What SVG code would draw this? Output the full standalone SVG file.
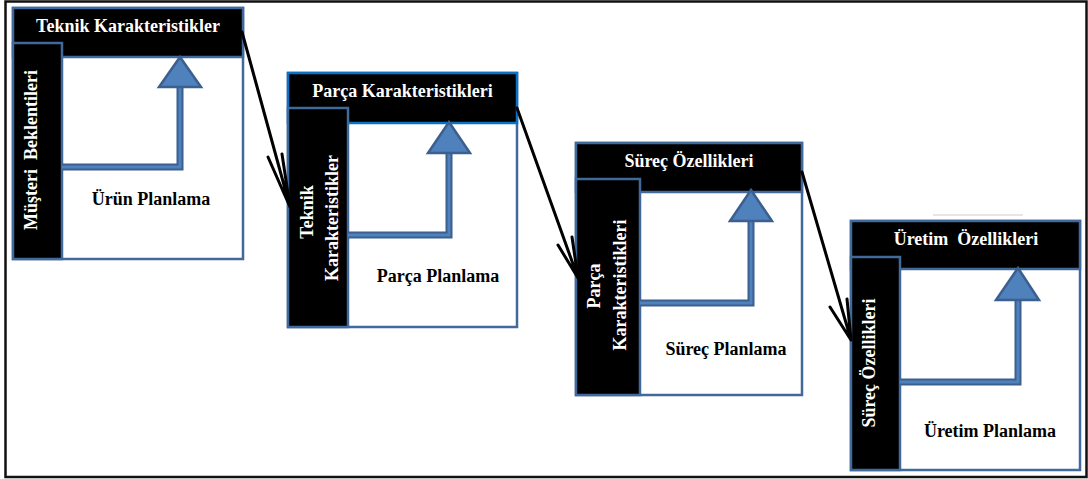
<svg xmlns="http://www.w3.org/2000/svg" width="1088" height="479" viewBox="0 0 1088 479">
<defs>
<style>
.frame{fill:#fff;stroke:#111;stroke-width:2.5}
.box{fill:#fff;stroke:#41699c;stroke-width:2.5}
.hdr{fill:#000;stroke:#41699c;stroke-width:2.5}
.hdr2{fill:#000;stroke:#0a72c4;stroke-width:2.5}
.bar{fill:#000;stroke:#41699c;stroke-width:2.5}
.flowO{fill:none;stroke:#3b5f8e;stroke-width:7;stroke-linejoin:miter}
.flowI{fill:none;stroke:#4f81bd;stroke-width:3;stroke-linejoin:miter}
.head{fill:#4f81bd;stroke:#3b5f8e;stroke-width:2.5;stroke-linejoin:miter}
.wt{font-family:"Liberation Serif","Times New Roman",serif;font-weight:bold;font-size:18px;fill:#fff;text-anchor:middle}
.bt{font-family:"Liberation Serif","Times New Roman",serif;font-weight:bold;font-size:18px;fill:#000;text-anchor:middle}
.conn{fill:none;stroke:#000;stroke-width:3;stroke-linecap:round}
</style>
</defs>
<rect class="frame" x="5.5" y="1.5" width="1081" height="475.5"/>
<line x1="933" y1="215" x2="1023" y2="215" stroke="#e6e6e6" stroke-width="2"/>

<g id="urun-planlama">
<rect class="box" x="13" y="8" width="230" height="251"/>
<rect class="hdr" x="13" y="8" width="230" height="49"/>
<rect class="bar" x="13" y="43" width="49" height="216"/>
<text class="wt" x="128" y="32">Teknik Karakteristikler</text>
<text class="wt" transform="translate(37,150) rotate(-90)" xml:space="preserve">Müşteri  Beklentileri</text>
<path class="flowO" d="M62 167H180V86"/>
<path class="flowI" d="M62 167H180V86"/>
<polygon class="head" points="180,57 201,87 159,87"/>
<text class="bt" x="151" y="205">Ürün Planlama</text>
</g>

<g id="parca-planlama">
<rect class="box" x="288" y="73" width="229" height="254"/>
<rect class="hdr2" x="288" y="73" width="229" height="50"/>
<rect class="bar" x="288" y="108" width="60" height="219"/>
<text class="wt" x="402.5" y="97">Parça Karakteristikleri</text>
<text class="wt" transform="translate(313,212) rotate(-90)">Teknik</text>
<text class="wt" transform="translate(338,218) rotate(-90)">Karakteristikler</text>
<path class="flowO" d="M348 235H449V152"/>
<path class="flowI" d="M348 235H449V152"/>
<polygon class="head" points="449,122 470,153 428,153"/>
<text class="bt" x="438" y="282">Parça Planlama</text>
</g>

<g id="surec-planlama">
<rect class="box" x="576" y="143" width="226" height="252"/>
<rect class="hdr" x="576" y="143" width="226" height="49"/>
<rect class="bar" x="576" y="179" width="64" height="216"/>
<text class="wt" x="689" y="167">Süreç Özellikleri</text>
<text class="wt" transform="translate(600,286) rotate(-90)">Parça</text>
<text class="wt" transform="translate(626,285) rotate(-90)">Karakteristikleri</text>
<path class="flowO" d="M640 303H751V220"/>
<path class="flowI" d="M640 303H751V220"/>
<polygon class="head" points="751,190 772,221 730,221"/>
<text class="bt" x="726" y="355">Süreç Planlama</text>
</g>

<g id="uretim-planlama">
<rect class="box" x="851" y="221" width="229" height="249"/>
<rect class="hdr" x="851" y="221" width="229" height="48"/>
<rect class="bar" x="851" y="257" width="49" height="213"/>
<text class="wt" x="966" y="245" xml:space="preserve">Üretim  Özellikleri</text>
<text class="wt" transform="translate(875,363) rotate(-90)">Süreç Özellikleri</text>
<path class="flowO" d="M900 382H1018V299"/>
<path class="flowI" d="M900 382H1018V299"/>
<polygon class="head" points="1018,268 1039,300 996,300"/>
<text class="bt" x="990" y="437">Üretim Planlama</text>
</g>

<g id="connectors">
<path class="conn" d="M242 32L290 207M268 157L290 207M282 154L290 207"/>
<path class="conn" d="M517 108L578 278M558 245L578 278M572 237L578 278"/>
<path class="conn" d="M802 172L851 340M830 307L851 340M847 299L851 340"/>
</g>
</svg>
